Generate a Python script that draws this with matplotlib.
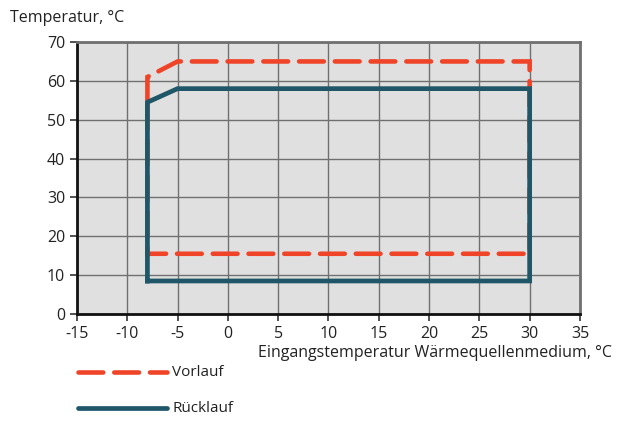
import matplotlib.pyplot as plt
from matplotlib.lines import Line2D

plt.rcParams['font.family'] = ['Open Sans', 'DejaVu Sans']
plt.rcParams['axes.unicode_minus'] = False

ROT = "#f04428"
BLAU = "#1f5668"
FUNDO = "#e0e0e0"

# Vorlauf (Rot, gestrichelt)
vorlauf_x = [-8, -8, -5, 30, 30, -8, -8]
vorlauf_y = [55, 61, 65, 65, 15.5, 15.5, 55]

# Rücklauf (Blau, durchgezogen)
ruecklauf_x = [-8, -8, -5, 30, 30, -8]
ruecklauf_y = [8.5, 54.5, 58, 58, 8.5, 8.5]

x_ticks = [-15, -10, -5, 0, 5, 10, 15, 20, 25, 30, 35]
y_ticks = [0, 10, 20, 30, 40, 50, 60, 70]

TRACO = (5.4, 2.4)

fig = plt.figure(figsize=(6.24, 4.21), dpi=100, facecolor="white")
ax = fig.add_axes([0.1234, 0.2542, 0.806, 0.646])
ax.set_facecolor(FUNDO)

ax.plot(vorlauf_x, vorlauf_y, color=ROT, lw=3.3, dashes=TRACO,
        dash_capstyle="round", dash_joinstyle="miter", zorder=3)
ax.plot(ruecklauf_x, ruecklauf_y, color=BLAU, lw=3.4,
        solid_joinstyle="miter", zorder=4)

ax.set_xlim(-15, 35)
ax.set_ylim(0, 70)
ax.set_xticks(x_ticks)
ax.set_yticks(y_ticks)
ax.grid(True, color="#707070", lw=1, zorder=1)
ax.set_axisbelow(True)
ax.tick_params(labelsize=11.5, length=5, width=1.2, color="#333333", labelcolor="#222222")

for lado in ["left", "bottom"]:
    ax.spines[lado].set_color("#111111")
    ax.spines[lado].set_linewidth(2)
for lado in ["top", "right"]:
    ax.spines[lado].set_color("#707070")
    ax.spines[lado].set_linewidth(2)

fig.text(10 / 624, 1 - 18 / 421, "Temperatur, °C", fontsize=11.5,
         ha="left", va="center", color="#222222")
fig.text(612 / 624, 1 - 353 / 421, "Eingangstemperatur Wärmequellenmedium, °C",
         fontsize=11.5, ha="right", va="center", color="#222222")

# Legende manuell
leg_ax = fig.add_axes([0, 0, 1, 1], facecolor="none")
leg_ax.set_xlim(0, 624)
leg_ax.set_ylim(421, 0)
leg_ax.axis("off")
leg_ax.add_line(Line2D([78, 167], [372, 372], color=ROT, lw=3.3, dashes=TRACO,
                       dash_capstyle="round"))
leg_ax.add_line(Line2D([78, 167], [408, 408], color=BLAU, lw=3.4,
                       solid_capstyle="round"))
leg_ax.text(172, 372, "Vorlauf", fontsize=11, va="center", ha="left", color="#222222")
leg_ax.text(172, 409, "Rücklauf", fontsize=11, va="center", ha="left", color="#222222")

fig.savefig("out.png", dpi=100, facecolor="white")
